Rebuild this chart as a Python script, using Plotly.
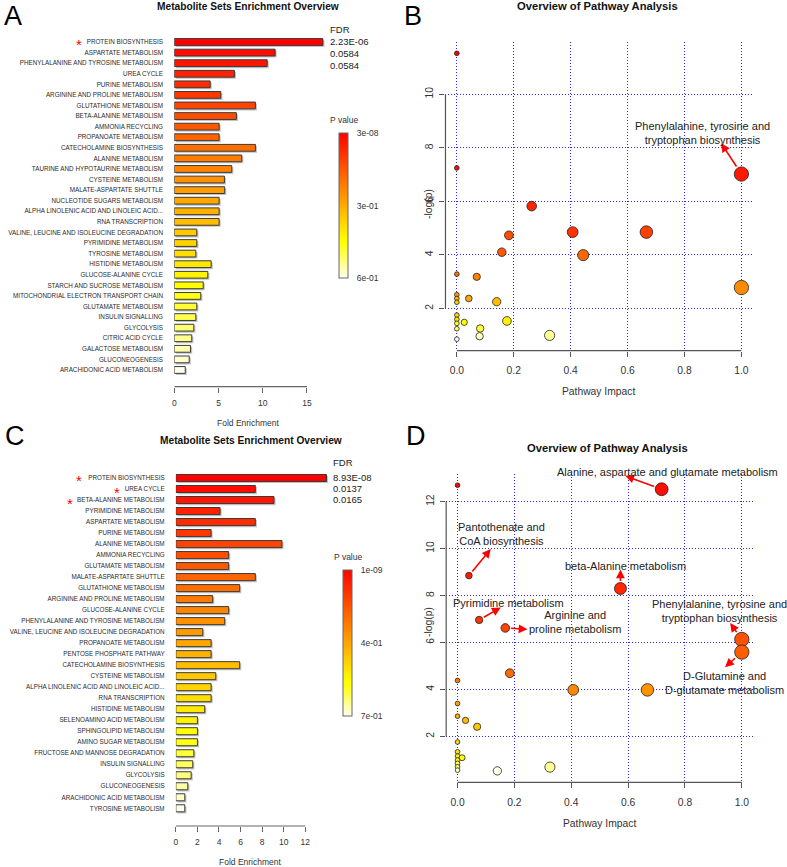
import math
import colorsys
import plotly.graph_objects as go

W, H = 787, 867
FONT = "Liberation Sans, Arial, Helvetica, sans-serif"

# ---------------- DATA ----------------
# Panel A: metabolite set enrichment (fold enrichment)
a_sets = ["PROTEIN BIOSYNTHESIS", "ASPARTATE METABOLISM", "PHENYLALANINE AND TYROSINE METABOLISM",
          "UREA CYCLE", "PURINE METABOLISM", "ARGININE AND PROLINE METABOLISM", "GLUTATHIONE METABOLISM",
          "BETA-ALANINE METABOLISM", "AMMONIA RECYCLING", "PROPANOATE METABOLISM",
          "CATECHOLAMINE BIOSYNTHESIS", "ALANINE METABOLISM", "TAURINE AND HYPOTAURINE METABOLISM",
          "CYSTEINE METABOLISM", "MALATE-ASPARTATE SHUTTLE", "NUCLEOTIDE SUGARS METABOLISM",
          "ALPHA LINOLENIC ACID AND LINOLEIC ACID...", "RNA TRANSCRIPTION",
          "VALINE, LEUCINE AND ISOLEUCINE DEGRADATION", "PYRIMIDINE METABOLISM", "TYROSINE METABOLISM",
          "HISTIDINE METABOLISM", "GLUCOSE-ALANINE CYCLE", "STARCH AND SUCROSE METABOLISM",
          "MITOCHONDRIAL ELECTRON TRANSPORT CHAIN", "GLUTAMATE METABOLISM", "INSULIN SIGNALLING",
          "GLYCOLYSIS", "CITRIC ACID CYCLE", "GALACTOSE METABOLISM", "GLUCONEOGENESIS",
          "ARACHIDONIC ACID METABOLISM"]
a_fold = [16.8, 11.4, 10.5, 6.8, 4.06, 5.26, 9.17, 7.02, 5.07, 5.07, 9.17, 7.63, 6.5, 5.67, 5.7, 5.07,
          5.07, 5.07, 2.55, 2.55, 2.44, 4.17, 3.79, 3.27, 3.0, 2.55, 2.44, 2.21, 1.98, 1.84, 1.69, 1.24]
a_fdr = ["2.23E-06", "0.0584", "0.0584"]
a_starred = ["PROTEIN BIOSYNTHESIS"]
a_pticks = ["3e-08", "3e-01", "6e-01"]

# Panel C
c_sets = ["PROTEIN BIOSYNTHESIS", "UREA CYCLE", "BETA-ALANINE METABOLISM", "PYRIMIDINE METABOLISM",
          "ASPARTATE METABOLISM", "PURINE METABOLISM", "ALANINE METABOLISM", "AMMONIA RECYCLING",
          "GLUTAMATE METABOLISM", "MALATE-ASPARTATE SHUTTLE", "GLUTATHIONE METABOLISM",
          "ARGININE AND PROLINE METABOLISM", "GLUCOSE-ALANINE CYCLE", "PHENYLALANINE AND TYROSINE METABOLISM",
          "VALINE, LEUCINE AND ISOLEUCINE DEGRADATION", "PROPANOATE METABOLISM", "PENTOSE PHOSPHATE PATHWAY",
          "CATECHOLAMINE BIOSYNTHESIS", "CYSTEINE METABOLISM", "ALPHA LINOLENIC ACID AND LINOLEIC ACID...",
          "RNA TRANSCRIPTION", "HISTIDINE METABOLISM", "SELENOAMINO ACID METABOLISM",
          "SPHINGOLIPID METABOLISM", "AMINO SUGAR METABOLISM", "FRUCTOSE AND MANNOSE DEGRADATION",
          "INSULIN SIGNALLING", "GLYCOLYSIS", "GLUCONEOGENESIS", "ARACHIDONIC ACID METABOLISM",
          "TYROSINE METABOLISM"]
c_fold = [13.97, 7.37, 9.1, 4.1, 7.37, 3.27, 9.84, 4.9, 4.9, 7.37, 5.92, 3.42, 4.9, 4.53, 2.5, 3.27,
          3.27, 5.92, 3.7, 3.27, 3.27, 2.68, 2.0, 2.0, 2.0, 1.67, 1.57, 1.42, 1.11, 0.83, 0.83]
c_fdr = ["8.93E-08", "0.0137", "0.0165"]
c_starred = ["PROTEIN BIOSYNTHESIS", "UREA CYCLE", "BETA-ALANINE METABOLISM"]
c_pticks = ["1e-09", "4e-01", "7e-01"]

# Panel B: pathway impact vs -log(p)
b_impact = [0.0, 0.0, 1.0, 0.263, 0.407, 0.666, 0.183, 0.158, 0.444, 0.0, 0.07, 1.0, 0.0, 0.042,
            0.0, 0.14, 0.0, 0.0, 0.0, 0.176, 0.026, 0.0, 0.082, 0.0, 0.326, 0.08, 0.0]
b_logp = [11.53, 7.25, 7.02, 5.82, 4.85, 4.85, 4.73, 4.10, 3.99, 3.28, 3.18, 2.78, 2.51, 2.37,
          2.37, 2.25, 2.23, 1.75, 1.59, 1.53, 1.48, 1.44, 1.25, 1.24, 0.99, 0.96, 0.85]
b_labels = {2: "Phenylalanine, tyrosine and<br>tryptophan biosynthesis"}

# Panel D
d_impact = [0.0, 0.718, 0.04, 0.573, 0.076, 0.168, 1.0, 1.0, 0.184, 0.0, 0.407, 0.668, 0.0, 0.0,
            0.028, 0.069, 0.0, 0.0, 0.0, 0.016, 0.0, 0.0, 0.0, 0.325, 0.0, 0.14]
d_logp = [12.7, 12.53, 8.85, 8.3, 6.96, 6.62, 6.13, 5.59, 4.69, 4.38, 3.98, 3.98, 3.4, 2.86,
          2.68, 2.41, 1.76, 1.34, 1.16, 1.09, 0.99, 0.85, 0.70, 0.69, 0.56, 0.53]
d_labels = {1: "Alanine, aspartate and glutamate metabolism",
            2: "Pantothenate and<br>CoA biosynthesis",
            3: "beta-Alanine metabolism",
            4: "Pyrimidine metabolism",
            5: "Arginine and<br>proline metabolism",
            6: "Phenylalanine, tyrosine and<br>tryptophan biosynthesis",
            7: "D-Glutamine and<br>D-glutamate metabolism"}

# label placement: text centre (page pixels) and arrow head (data units)
b_label_pos = {2: ((702.4, 133.3), (0.929, 8.17))}
d_label_pos = {1: ((667.5, 471.7), (0.590, 13.10)),
               2: ((500.3, 534.0), (0.117, 9.98)),
               3: ((624.8, 565.7), (0.573, 9.11)),
               4: ((508.0, 602.7), (0.152, 7.49)),
               5: ((574.3, 621.7), (0.246, 6.56)),
               6: ((719.2, 610.8), (0.959, 6.83)),
               7: ((724.5, 682.5), (0.941, 4.95))}


# ---------------- helpers ----------------
def pxx(x):
    return x / W


def pxy(y):
    return 1 - y / H


def heat_colors(n):
    j = n // 4
    i = n - j
    out = []
    for k in range(i):
        h = (1 / 6) * (k / (i - 1) if i > 1 else 0)
        out.append(colorsys.hsv_to_rgb(h, 1, 1))
    for k in range(j):
        s0, s1 = 1 - 1 / (2 * j), 1 / (2 * j)
        s = s0 + (s1 - s0) * (k / (j - 1) if j > 1 else 0)
        out.append(colorsys.hsv_to_rgb(1 / 6, s, 1))
    return ["rgb(%d,%d,%d)" % (round(r * 255), round(g * 255), round(b * 255)) for r, g, b in out]


fig = go.Figure()
annotations = []
shapes = []


def text(x, y, s, size, color="#222", bold=False, xanchor="center", yanchor="middle", angle=0,
         xref="paper", yref="paper", **kw):
    annotations.append(dict(x=x, y=y, xref=xref, yref=yref, text=("<b>%s</b>" % s) if bold else s,
                            showarrow=False, xanchor=xanchor, yanchor=yanchor, textangle=angle,
                            font=dict(size=size, color=color, family=FONT), **kw))


def bar_panel(idx, sets, fold, fdr, starred, pticks, x0px, pxu, xright_px, ytop_px, ybot_px,
              first_px, step_px, xticks, cb, fdr_pos, star_x):
    n = len(sets)
    xa, ya = ("x%d" % idx if idx > 1 else "x"), ("y%d" % idx if idx > 1 else "y")
    cols = heat_colors(n)
    cscale = [[k / (n - 1), cols[n - 1 - k]] for k in range(n)]
    bw = 0.64
    # soft drop shadow
    fig.add_trace(go.Bar(
        x=fold, y=list(range(n)), orientation="h", xaxis=xa, yaxis=ya, width=bw,
        base=1.6 / pxu, offset=-bw / 2 + 1.6 / step_px,
        marker=dict(color="rgba(120,120,120,0.45)", line=dict(width=0)), hoverinfo="skip"))
    fig.add_trace(go.Bar(
        x=fold, y=list(range(n)), orientation="h", xaxis=xa, yaxis=ya, width=bw, offset=-bw / 2,
        marker=dict(color=[n - 1 - i for i in range(n)], colorscale=cscale, cmin=0, cmax=n - 1,
                    line=dict(color="#3a3a3a", width=1), showscale=True,
                    colorbar=dict(x=pxx(cb[0]), xanchor="left", y=pxy((cb[1] + cb[2]) / 2),
                                  yanchor="middle", len=cb[2] - cb[1], lenmode="pixels",
                                  thickness=cb[3], thicknessmode="pixels", outlinewidth=1,
                                  outlinecolor="#666", tickvals=[n - 1, (n - 1) / 2, 0],
                                  ticktext=pticks, ticks="outside", ticklen=7,
                                  tickcolor="rgba(0,0,0,0)",
                                  tickfont=dict(size=8.5, color="#333", family=FONT),
                                  xpad=0, ypad=0)),
        hoverinfo="skip"))
    last_px = first_px + (n - 1) * step_px
    yr = [(n - 1) + (ybot_px - last_px) / step_px, -(first_px - ytop_px) / step_px]
    axx = dict(domain=[pxx(x0px), pxx(xright_px)], range=[0, (xright_px - x0px) / pxu], anchor=ya,
               tickvals=xticks, ticks="outside", ticklen=5, tickcolor="#666", tickwidth=1,
               tickfont=dict(size=8.5, color="#333", family=FONT), showgrid=False, zeroline=False,
               showline=False, ticklabelstandoff=3)
    axy = dict(domain=[pxy(ybot_px), pxy(ytop_px)], range=yr, anchor=xa, tickvals=list(range(n)),
               ticktext=sets, tickfont=dict(size=6.3, color="#2a2a2a", family=FONT), ticks="outside",
               ticklen=9, tickcolor="rgba(0,0,0,0)", showgrid=False, zeroline=False, showline=False)
    fig.layout["xaxis%d" % idx if idx > 1 else "xaxis"] = axx
    fig.layout["yaxis%d" % idx if idx > 1 else "yaxis"] = axy
    shapes.append(dict(type="line", xref=xa, yref=ya + " domain", x0=xticks[0], x1=xticks[-1], y0=0,
                       y1=0, line=dict(color="#666", width=1.2)))
    # FDR column
    text(pxx(fdr_pos[0]), pxy(fdr_pos[1]), "FDR", 9.5, xanchor="left")
    for k, v in enumerate(fdr):
        text(pxx(fdr_pos[0]), pxy(fdr_pos[2] + k * fdr_pos[3]), v, 9.5, xanchor="left")
    # stars
    for s, sx in zip(starred, star_x):
        k = sets.index(s)
        annotations.append(dict(x=pxx(sx), y=k, xref="paper", yref=ya, text="*", showarrow=False,
                                xanchor="center", yanchor="middle", yshift=-3, height=9, width=8,
                                borderpad=0, valign="middle",
                                font=dict(size=15, color="red", family=FONT)))
    # P value title
    text(pxx(cb[0] + cb[3] / 2), pxy(cb[1] - 13), "P value", 8.5, color="#333")


bar_panel(1, a_sets, a_fold, a_fdr, a_starred, a_pticks, 172.7, 8.87, 325, 30, 386.7, 42, 10.58,
          [0, 5, 10, 15], (338.3, 133.3, 278.3, 9.4), (327, 29, 42, 11.7), [77])
bar_panel(3, c_sets, c_fold, c_fdr, c_starred, c_pticks, 174.3, 10.81, 330, 466, 826, 478, 11.01,
          [0, 2, 4, 6, 8, 10, 12], (342.3, 570, 715.7, 8.8), (330, 462.7, 477.3, 11.0),
          [77.5, 115.5, 68.3])


def scatter_panel(idx, impact, logp, labels, label_pos, xdom_px, ydom_px):
    n = len(impact)
    xa, ya = "x%d" % idx, "y%d" % idx
    heat = heat_colors(n)
    order = sorted(range(n), key=lambda i: -logp[i])
    cols = [None] * n
    for r, i in enumerate(order):
        cols[i] = heat[r]
    sizes = [4.7 + 9.6 * math.sqrt(v) for v in impact]
    fig.add_trace(go.Scatter(x=impact, y=logp, mode="markers", xaxis=xa, yaxis=ya, hoverinfo="skip",
                             marker=dict(size=sizes, color=cols, line=dict(color="#222", width=0.8),
                                         opacity=1)))
    span = max(logp) - min(logp)
    yr = [min(logp) - 0.04 * span, max(logp) + 0.04 * span]
    yt = [v for v in range(2, 20, 2) if yr[0] <= v <= yr[1]]
    grid = dict(showgrid=True, gridcolor="rgb(40,40,255)", gridwidth=1, griddash="1px,2px",
                zeroline=False, showline=False, ticks="outside", ticklen=5, tickcolor="#555",
                tickfont=dict(size=10.3, color="#333", family=FONT))
    fig.layout["xaxis%d" % idx] = dict(domain=[pxx(xdom_px[0]), pxx(xdom_px[1])], range=[-0.04, 1.04],
                                       anchor=ya, tickvals=[0, 0.2, 0.4, 0.6, 0.8, 1.0],
                                       ticktext=["0.0", "0.2", "0.4", "0.6", "0.8", "1.0"],
                                       ticklabelstandoff=5, **grid)
    fig.layout["yaxis%d" % idx] = dict(domain=[pxy(ydom_px[1]), pxy(ydom_px[0])], range=yr, anchor=xa,
                                       tickvals=yt, tickangle=-90, ticklabelstandoff=2, **grid)
    shapes.append(dict(type="line", xref=xa, yref=ya + " domain", x0=0, x1=1, y0=0, y1=0,
                       line=dict(color="#555", width=1.2)))
    shapes.append(dict(type="line", xref=xa + " domain", yref=ya, x0=0, x1=0, y0=yt[0], y1=yt[-1],
                       line=dict(color="#555", width=1.2)))
    for i, lab in labels.items():
        (tx, ty), (hx, hy) = label_pos[i]
        annotations.append(dict(x=hx, y=hy, xref=xa, yref=ya, ax=impact[i], ay=logp[i], axref=xa,
                                ayref=ya, text="", showarrow=True, arrowhead=2, arrowsize=1.1,
                                arrowwidth=1.6, arrowcolor="red", standoff=0,
                                startstandoff=sizes[i] / 2))
        text(pxx(tx), pxy(ty), lab, 11, color="#222")


scatter_panel(2, b_impact, b_logp, b_labels, b_label_pos, (444.6, 752.7), (41.9, 350.6))
scatter_panel(4, d_impact, d_logp, d_labels, d_label_pos, (445.3, 753.1), (473.8, 782.3))

# titles, axis titles, panel letters
text(pxx(246.7), pxy(6.5), "Metabolite Sets Enrichment Overview", 10.2, color="#111", bold=True)
text(pxx(249.3), pxy(440.7), "Metabolite Sets Enrichment Overview", 10.2, color="#111", bold=True)
text(pxx(596.7), pxy(6.5), "Overview of Pathway Analysis", 11.2, color="#111", bold=True)
text(pxx(606.7), pxy(448.3), "Overview of Pathway Analysis", 11.2, color="#111", bold=True)
text(pxx(246.8), pxy(423.3), "Fold Enrichment", 8.5, color="#333")
text(pxx(249.5), pxy(861.5), "Fold Enrichment", 8.5, color="#333")
text(pxx(598.5), pxy(391.7), "Pathway Impact", 10.3, color="#333")
text(pxx(599.2), pxy(823.3), "Pathway Impact", 10.3, color="#333")
text(pxx(427), pxy(204), "-log(p)", 10.3, color="#333", angle=-90)
text(pxx(427), pxy(622), "-log(p)", 10.3, color="#333", angle=-90)
text(pxx(1.5), 1, "A", 27, color="#000", xanchor="left", yanchor="top", borderpad=0)
text(pxx(402), 1, "B", 27, color="#000", xanchor="left", yanchor="top", borderpad=0)
text(pxx(2.5), pxy(436), "C", 27, color="#000", xanchor="left", borderpad=0)
text(pxx(404), pxy(436), "D", 27, color="#000", xanchor="left", borderpad=0)

fig.update_layout(width=W, height=H, margin=dict(l=0, r=0, t=0, b=0), paper_bgcolor="white",
                  plot_bgcolor="white", showlegend=False, annotations=annotations, shapes=shapes,
                  font=dict(family=FONT), barmode="overlay")

fig.write_html("out.html", config={"displayModeBar": False},
               post_script="document.body.style.margin='0';document.body.style.overflow='hidden';")
